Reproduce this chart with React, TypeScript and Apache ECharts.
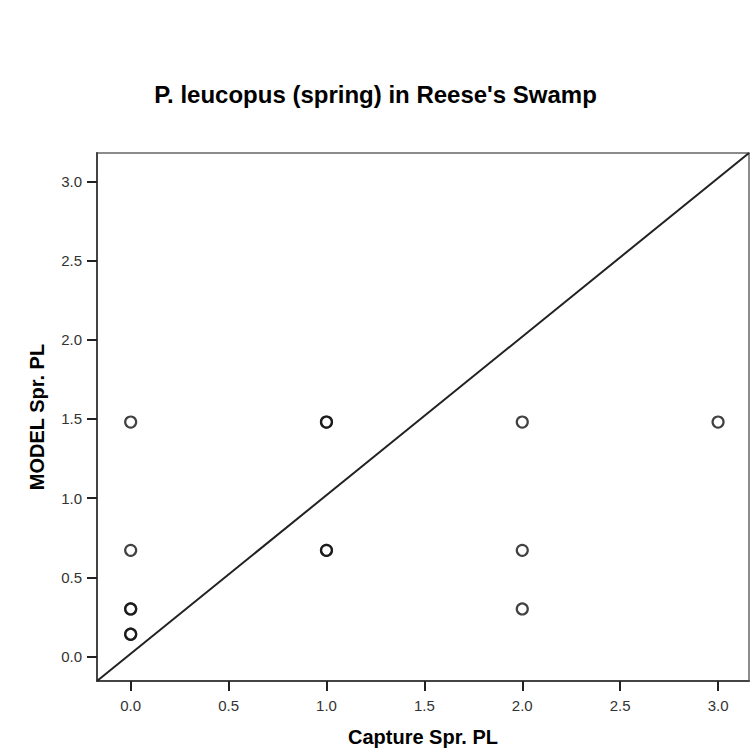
import React, { useEffect, useRef } from "react";
import * as echarts from "echarts";

const title = "P. leucopus (spring) in Reese's Swamp";
const xTitle = "Capture Spr. PL";
const yTitle = "MODEL Spr. PL";

// Observed captures vs model predictions (overlapping points repeated)
const captureSprPL = [0, 0, 0, 0, 0, 0, 1, 1, 1, 1, 2, 2, 2, 3];
const modelSprPL = [0.14, 0.14, 0.3, 0.3, 0.67, 1.48, 0.67, 0.67, 1.48, 1.48, 0.3, 0.67, 1.48, 1.48];

const xTicks = [0, 0.5, 1, 1.5, 2, 2.5, 3];
const yTicks = [0, 0.5, 1, 1.5, 2, 2.5, 3];

const xMin = -0.172;
const xMax = 3.158;
const yMin = -0.155;
const yMax = 3.179;

export default function App() {
  const ref = useRef<HTMLDivElement>(null);
  useEffect(() => {
    if (!ref.current) return;
    const chart = echarts.init(ref.current, null, { renderer: "svg" });
    const points = captureSprPL.map((x, i) => [x, modelSprPL[i]]);
    const font = "Arial, 'Liberation Sans', sans-serif";
    chart.setOption({
      animation: false,
      backgroundColor: "#ffffff",
      title: {
        text: title,
        left: "center",
        top: 77,
        padding: [5, 5, 5, 15],
        textStyle: { fontFamily: font, fontSize: 24, fontWeight: "bold", color: "#000" },
      },
      grid: {
        left: 97,
        top: 153,
        right: 2,
        bottom: 71,
        show: true,
        borderColor: "#666",
        borderWidth: 1.5,
        backgroundColor: "transparent",
      },
      xAxis: {
        type: "value",
        min: xMin,
        max: xMax,
        name: xTitle,
        nameLocation: "middle",
        nameGap: 46,
        nameTextStyle: { fontFamily: font, fontSize: 20, fontWeight: "bold", color: "#000" },
        axisLine: { show: true, onZero: false, lineStyle: { color: "#444", width: 2 } },
        axisTick: { show: true, length: 10, customValues: xTicks, lineStyle: { color: "#222", width: 2 } },
        axisLabel: {
          customValues: xTicks,
          margin: 17,
          fontFamily: font,
          fontSize: 15,
          color: "#333",
          formatter: (v: number) => v.toFixed(1),
        },
        splitLine: { show: false },
      },
      yAxis: {
        type: "value",
        min: yMin,
        max: yMax,
        name: yTitle,
        nameLocation: "middle",
        nameGap: 50,
        nameTextStyle: { fontFamily: font, fontSize: 20, fontWeight: "bold", color: "#000" },
        axisLine: { show: true, onZero: false, lineStyle: { color: "#444", width: 2 } },
        axisTick: { show: true, length: 10, customValues: yTicks, lineStyle: { color: "#222", width: 2 } },
        axisLabel: {
          customValues: yTicks,
          margin: 15,
          fontFamily: font,
          fontSize: 15,
          color: "#333",
          formatter: (v: number) => v.toFixed(1),
        },
        splitLine: { show: false },
      },
      series: [
        {
          type: "line",
          data: [
            [xMin, yMin],
            [xMax, yMax],
          ],
          showSymbol: false,
          symbol: "none",
          lineStyle: { color: "#222", width: 2 },
          silent: true,
          z: 2,
        },
        {
          type: "scatter",
          data: points,
          symbol: "circle",
          symbolSize: 11,
          itemStyle: { color: "rgba(255,255,255,0)", borderColor: "#111", borderWidth: 2.2 },
          z: 3,
        },
      ],
    });
    return () => chart.dispose();
  }, []);
  return (
    <div
      ref={ref}
      style={{ position: "fixed", left: 0, top: 0, width: 751, height: 752 }}
    />
  );
}
